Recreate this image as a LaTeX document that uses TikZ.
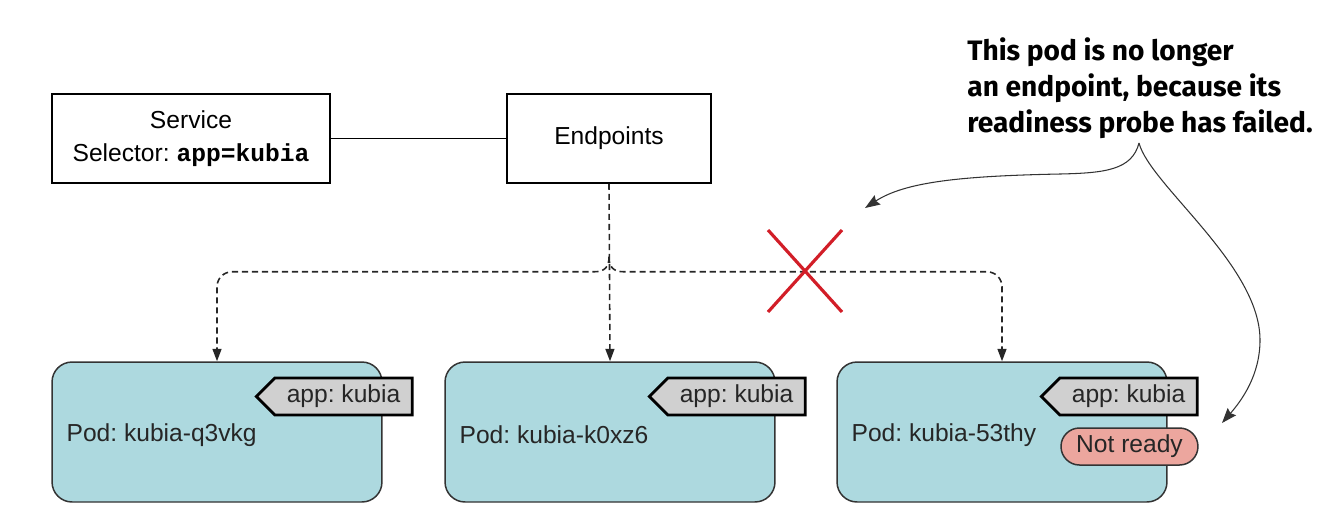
\documentclass[tikz,border=0pt]{standalone}
\usepackage{fontspec}
\setmainfont{Liberation Sans}
\setmonofont{Liberation Mono}
\newfontfamily\notefont{Fira Sans}
\usetikzlibrary{arrows.meta,positioning,shapes.symbols}
\definecolor{podblue}{RGB}{173,217,223}
\definecolor{taggray}{RGB}{208,208,208}
\definecolor{notready}{RGB}{236,166,158}
\definecolor{crossred}{RGB}{210,30,40}
\tikzset{
	box/.style={draw, line width=0.9pt, minimum height=1.78cm, align=center, font=\fontsize{14}{18.8}\selectfont},
	pod/.style={draw=black!80, line width=0.85pt, fill=podblue, rounded corners=0.4cm, minimum width=6.6cm, minimum height=2.8cm},
	podname/.style={anchor=west, inner sep=0pt, font=\fontsize{14}{16}\selectfont, text=black!85},
	tag/.style={draw, line width=1.6pt, fill=taggray, shape=signal, signal to=west, minimum width=3.12cm, minimum height=0.74cm, inner sep=1pt, font=\fontsize{14}{16}\selectfont, text=black!85},
	pill/.style={draw=black!80, line width=0.85pt, fill=notready, rounded corners=0.37cm, minimum width=2.74cm, minimum height=0.74cm, inner sep=1pt, font=\fontsize{14}{16}\selectfont, text=black!85},
	link/.style={line width=0.9pt, black!85, dash pattern=on 3.5pt off 2.2pt, -{Triangle[length=0.25cm,width=0.18cm]}},
	callout/.style={line width=0.6pt, black!80, -{Stealth[length=0.3cm,width=0.22cm,inset=0.04cm]}},
	cross/.style={line width=1.8pt, crossred}
}

\begin{document}
\frenchspacing
\begin{tikzpicture}[x=0.02cm, y=-0.02cm]
			%%%%% START %%%%%
			\useasboundingbox (0, 0) rectangle (1318, 522);
			
			\node[box, minimum width=5.56cm] (svc) at (191, 138.5) {Service\\Selector: \textbf{\texttt{app=kubia}}};
			\node[box, minimum width=4.08cm] (ep) at (609, 138.5) {Endpoints};
			\draw[line width=0.9pt] (svc) -- (ep);
			
			\node[pod] (p1) at (217, 432) {};
			\node[tag, anchor=east] (t1) at ([xshift=0.62cm, yshift=0.71cm]p1.east) {app: kubia};
			\node[podname] (n1) at ([xshift=0.3cm, yshift=-0.06cm]p1.west) {Pod: kubia-q3vkg};
			
			\node[pod] (p2) at (610, 432) {};
			\node[tag, anchor=east] (t2) at ([xshift=0.62cm, yshift=0.71cm]p2.east) {app: kubia};
			\node[podname] (n2) at ([xshift=0.3cm, yshift=-0.06cm]p2.west) {Pod: kubia-k0xz6};
			
			\node[pod] (p3) at (1002, 432) {};
			\node[tag, anchor=east] (t3) at ([xshift=0.62cm, yshift=0.71cm]p3.east) {app: kubia};
			\node[podname] (n3) at ([xshift=0.3cm, yshift=-0.06cm]p3.west) {Pod: kubia-53thy};
			\node[pill, anchor=east] (nr) at ([xshift=0.62cm, yshift=-0.29cm]p3.east) {Not ready};
			
			\coordinate (sp) at ([yshift=-1.46cm]ep.south);
			\draw[link] (ep.south) -- (p2.north);
			\draw[link] (sp) .. controls ([yshift=-0.2cm]sp) and ([xshift=-0.08cm, yshift=-0.3cm]sp) .. ([xshift=-0.3cm, yshift=-0.3cm]sp) [rounded corners=0.3cm] -| (p1.north);
			\draw[link] (sp) .. controls ([yshift=-0.2cm]sp) and ([xshift=0.08cm, yshift=-0.3cm]sp) .. ([xshift=0.3cm, yshift=-0.3cm]sp) [rounded corners=0.3cm] -| (p3.north);
			
			\coordinate (cut) at (805, 271);
			\draw[cross] ([shift={(-0.74cm, 0.82cm)}]cut) -- ([shift={(0.74cm, -0.82cm)}]cut);
			\draw[cross] ([shift={(-0.74cm, -0.82cm)}]cut) -- ([shift={(0.74cm, 0.82cm)}]cut);
			
			\node[anchor=north west, inner sep=0pt, align=left, font=\notefont\bfseries\fontsize{16}{20.5}\selectfont] (note) at (967, 37) {This pod is no longer\\an endpoint, because its\\readiness probe has failed.};
			\coordinate (nb) at (1139, 143);
			\coordinate (xt) at (865, 208);
			\coordinate (nt) at (1222, 423);
			\draw[callout] (nb) .. controls (1132, 170) and (1105, 173) .. (1060, 174) .. controls (960, 176) and (905, 182) .. (xt);
			\draw[callout] (nb) .. controls (1150, 185) and (1260, 265) .. (1260, 340) .. controls (1260, 375) and (1242, 400) .. (nt);
			
			%%%%% END %%%%%
		\end{tikzpicture}
\end{document}
